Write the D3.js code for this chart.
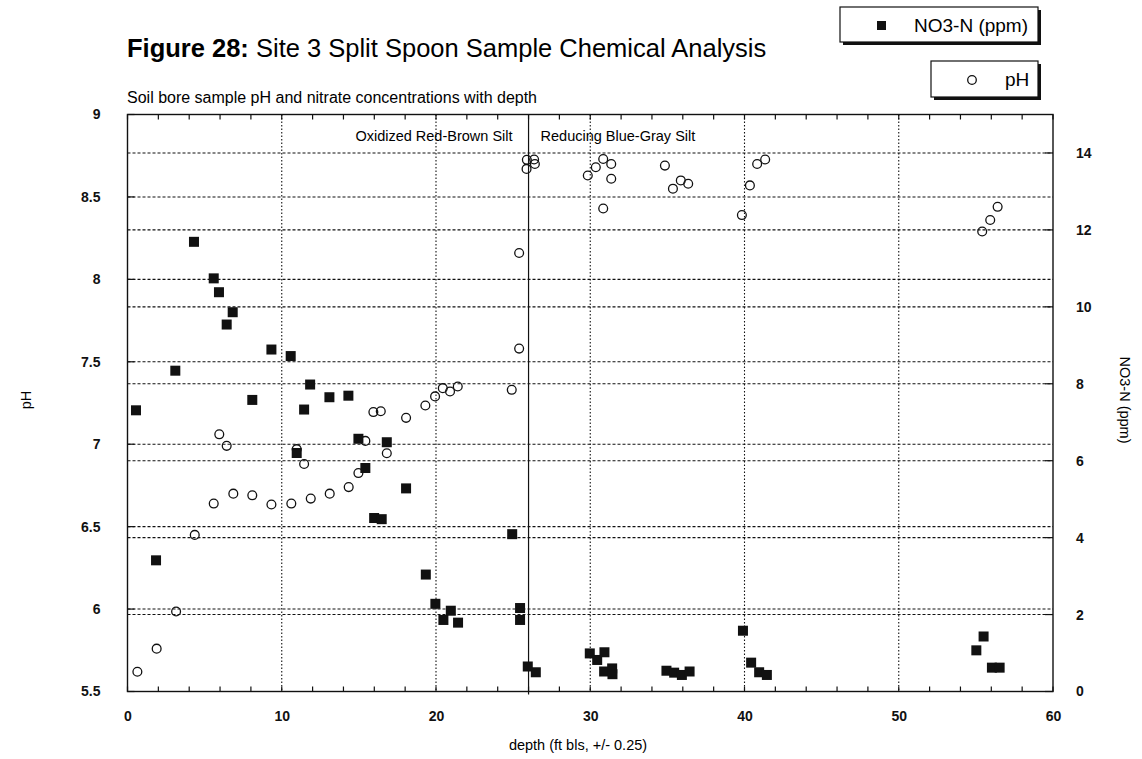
<!DOCTYPE html>
<html>
<head>
<meta charset="utf-8">
<script src="https://cdn.jsdelivr.net/npm/d3@7"></script>
<style>
  body { margin: 0; background: #fff; }
  svg { display: block; font-family: "Liberation Sans", Arial, sans-serif; }
</style>
</head>
<body>
<svg width="1142" height="759"></svg>
<script>
// depth (ft) and nitrate NO3-N (ppm)
let nitrateDepth = [0.55, 1.85, 3.10, 4.31, 5.59, 5.93, 6.43, 6.82, 8.09, 9.33, 10.58, 10.97, 11.45, 11.84,
  13.09, 14.32, 14.97, 15.42, 15.99, 16.48, 16.81, 18.06, 19.34, 19.96, 20.48, 20.96, 21.43, 24.94,
  25.45, 25.45, 25.95, 26.47, 29.97, 30.45, 30.92, 30.90, 31.42, 31.44, 34.94, 35.44, 35.94, 36.44,
  39.90, 40.43, 40.95, 41.45, 55.03, 55.50, 56.04, 56.54];
let nitrateValue = [7.31, 3.41, 8.34, 11.69, 10.74, 10.38, 9.54, 9.86, 7.58, 8.89, 8.72, 6.20, 7.33, 7.98,
  7.65, 7.69, 6.57, 5.81, 4.51, 4.48, 6.48, 5.28, 3.04, 2.28, 1.86, 2.10, 1.79, 4.09,
  2.17, 1.86, 0.65, 0.50, 0.99, 0.82, 1.02, 0.52, 0.60, 0.45, 0.54, 0.49, 0.43, 0.52,
  1.58, 0.75, 0.50, 0.43, 1.07, 1.43, 0.62, 0.62];

// depth (ft) and pH
let phDepth = [0.64, 1.89, 3.15, 4.36, 5.59, 5.95, 6.43, 6.86, 8.09, 9.33, 10.62, 10.97, 11.45, 11.88,
  13.11, 14.34, 14.97, 15.42, 15.94, 16.42, 16.81, 18.06, 19.31, 19.94, 20.44, 20.91, 21.41, 24.91,
  25.39, 25.39, 25.87, 25.89, 26.36, 26.41, 29.84, 30.36, 30.84, 30.84, 31.36, 31.36, 34.84, 35.36,
  35.87, 36.35, 39.83, 40.35, 40.82, 41.34, 55.41, 55.93, 56.41];
let phValue = [5.62, 5.76, 5.985, 6.45, 6.64, 7.06, 6.99, 6.70, 6.69, 6.634, 6.64, 6.97, 6.88, 6.67,
  6.70, 6.74, 6.825, 7.02, 7.195, 7.20, 6.945, 7.16, 7.235, 7.29, 7.34, 7.32, 7.35, 7.33,
  7.58, 8.16, 8.67, 8.725, 8.727, 8.70, 8.63, 8.68, 8.73, 8.43, 8.70, 8.61, 8.69, 8.55,
  8.60, 8.58, 8.39, 8.57, 8.70, 8.727, 8.29, 8.36, 8.44];

let depthTicks = [0, 10, 20, 30, 40, 50, 60];
let phTicks = [5.5, 6, 6.5, 7, 7.5, 8, 8.5, 9];
let nitrateTicks = [0, 2, 4, 6, 8, 10, 12, 14];
let boundaryDepth = 26;
let zoneLabels = ["Oxidized Red-Brown Silt", "Reducing Blue-Gray Silt"];

let pLeft = 127.5, pRight = 1053, pTop = 114.5, pBottom = 691.5;

let x = d3.scaleLinear().domain([0, 60]).range([pLeft, pRight]);
let yPh = d3.scaleLinear().domain([5.5, 9]).range([pBottom, pTop]);
let yNo3 = d3.scaleLinear().domain([0, 15]).range([pBottom, pTop]);

let svg = d3.select("svg");

// titles
let title = svg.append("text").attr("x", 127).attr("y", 57).attr("font-size", 25.5);
title.append("tspan").attr("font-weight", "bold").text("Figure 28:");
title.append("tspan").text(" Site 3 Split Spoon Sample Chemical Analysis");
svg.append("text").attr("x", 127).attr("y", 103).attr("font-size", 16)
  .text("Soil bore sample pH and nitrate concentrations with depth");

// grid lines
let grid = svg.append("g").attr("stroke", "#111").attr("stroke-width", 1.1);
grid.selectAll(".gph").data(phTicks.slice(1, -1)).join("line")
  .attr("x1", pLeft).attr("x2", pRight)
  .attr("y1", d => yPh(d)).attr("y2", d => yPh(d))
  .attr("stroke-dasharray", "3,2");
grid.selectAll(".gno").data(nitrateTicks.slice(1)).join("line")
  .attr("x1", pLeft).attr("x2", pRight)
  .attr("y1", d => yNo3(d)).attr("y2", d => yNo3(d))
  .attr("stroke-dasharray", "3,2");
grid.selectAll(".gx").data(depthTicks.slice(1, -1)).join("line")
  .attr("x1", d => x(d)).attr("x2", d => x(d))
  .attr("y1", pTop).attr("y2", pBottom)
  .attr("stroke-dasharray", "1.5,2");

// inward ticks
let ticks = svg.append("g").attr("stroke", "#111").attr("stroke-width", 1.2);
let minor = d3.range(0, 61, 2);
ticks.selectAll(".tt").data(minor).join("line")
  .attr("x1", d => x(d)).attr("x2", d => x(d)).attr("y1", pTop).attr("y2", pTop + 5);
ticks.selectAll(".tb").data(minor).join("line")
  .attr("x1", d => x(d)).attr("x2", d => x(d)).attr("y1", pBottom).attr("y2", pBottom - 5);
ticks.selectAll(".tl").data(phTicks).join("line")
  .attr("x1", pLeft).attr("x2", pLeft + 7).attr("y1", d => yPh(d)).attr("y2", d => yPh(d));
ticks.selectAll(".tr").data(nitrateTicks).join("line")
  .attr("x1", pRight).attr("x2", pRight - 8).attr("y1", d => yNo3(d)).attr("y2", d => yNo3(d));

// zone boundary
svg.append("line")
  .attr("x1", x(boundaryDepth)).attr("x2", x(boundaryDepth))
  .attr("y1", pTop).attr("y2", pBottom + 3)
  .attr("stroke", "#111").attr("stroke-width", 1.2);
svg.append("text").attr("x", x(boundaryDepth) - 16).attr("y", 141)
  .attr("text-anchor", "end").attr("font-size", 14.5).text(zoneLabels[0]);
svg.append("text").attr("x", x(boundaryDepth) + 12).attr("y", 141)
  .attr("font-size", 14.5).text(zoneLabels[1]);

// frame
svg.append("rect").attr("x", pLeft).attr("y", pTop)
  .attr("width", pRight - pLeft).attr("height", pBottom - pTop)
  .attr("fill", "none").attr("stroke", "#111").attr("stroke-width", 1.4);

// axes labels through d3 axes
let axisFont = g => g.call(s => s.select(".domain").remove())
  .selectAll("text").attr("font-size", 14).attr("font-weight", "bold")
  .attr("font-family", "Liberation Sans, Arial, sans-serif").attr("fill", "#111");

svg.append("g").attr("transform", `translate(0,${pBottom})`)
  .call(d3.axisBottom(x).tickValues(depthTicks).tickSize(0).tickPadding(20))
  .call(axisFont);
svg.append("g").attr("transform", `translate(${pLeft},0)`)
  .call(d3.axisLeft(yPh).tickValues(phTicks).tickSize(0).tickPadding(27).tickFormat(d3.format("~g")))
  .call(axisFont);
svg.append("g").attr("transform", `translate(${pRight},0)`)
  .call(d3.axisRight(yNo3).tickValues(nitrateTicks).tickSize(0).tickPadding(23))
  .call(axisFont);

svg.append("text").attr("transform", "translate(31,400) rotate(-90)")
  .attr("text-anchor", "middle").attr("font-size", 14.5).text("pH");
svg.append("text").attr("transform", "translate(1120,400) rotate(90)")
  .attr("text-anchor", "middle").attr("font-size", 14.5).text("NO3-N (ppm)");
svg.append("text").attr("x", 578).attr("y", 750)
  .attr("text-anchor", "middle").attr("font-size", 14.5).text("depth (ft bls, +/- 0.25)");

// points
let phPts = phDepth.map((d, i) => ({ d, v: phValue[i] }));
let noPts = nitrateDepth.map((d, i) => ({ d, v: nitrateValue[i] }));

svg.append("g").selectAll("circle").data(phPts).join("circle")
  .attr("cx", p => x(p.d)).attr("cy", p => yPh(p.v)).attr("r", 4.4)
  .attr("fill", "none").attr("stroke", "#111").attr("stroke-width", 1.3);

svg.append("g").selectAll("rect").data(noPts).join("rect")
  .attr("x", p => x(p.d) - 5).attr("y", p => yNo3(p.v) - 5)
  .attr("width", 10).attr("height", 10).attr("fill", "#111");

// legend boxes
function legendBox(x0, y0, w, h) {
  svg.append("rect").attr("x", x0 + 3).attr("y", y0 + 3).attr("width", w).attr("height", h).attr("fill", "#111");
  svg.append("rect").attr("x", x0).attr("y", y0).attr("width", w).attr("height", h)
    .attr("fill", "#fff").attr("stroke", "#111").attr("stroke-width", 1.2);
}
legendBox(840, 7, 198, 35);
svg.append("rect").attr("x", 877).attr("y", 21).attr("width", 9).attr("height", 9).attr("fill", "#111");
svg.append("text").attr("x", 914).attr("y", 32).attr("font-size", 19).text("NO3-N (ppm)");
legendBox(931, 61, 107, 36);
svg.append("circle").attr("cx", 972).attr("cy", 80).attr("r", 4.3)
  .attr("fill", "none").attr("stroke", "#111").attr("stroke-width", 1.3);
svg.append("text").attr("x", 1005).attr("y", 86).attr("font-size", 19).text("pH");
</script>
</body>
</html>
